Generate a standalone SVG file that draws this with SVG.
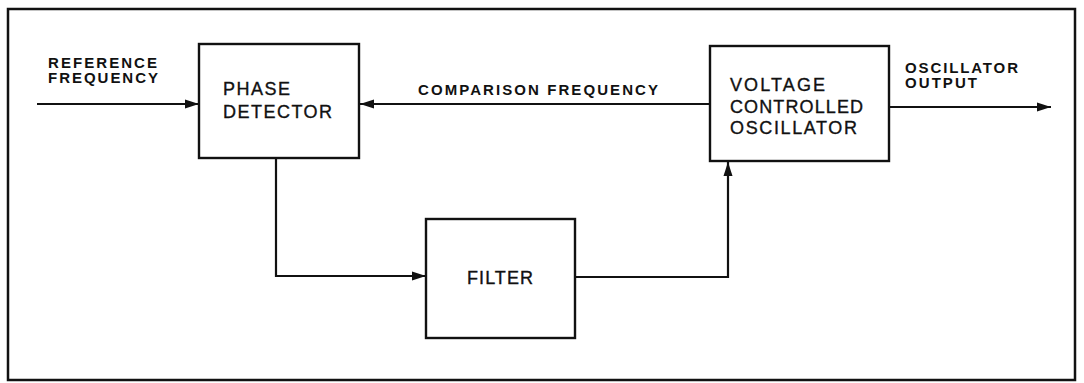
<svg xmlns="http://www.w3.org/2000/svg" width="1084" height="383" viewBox="0 0 1084 383">
<style>
.box{fill:#fff;stroke:#111;stroke-width:2.4}
.frame{fill:#fff;stroke:#111;stroke-width:2.5}
.wire{fill:none;stroke:#111;stroke-width:2.2}
.lbl{font-family:"Liberation Sans",Arial,sans-serif;font-weight:bold;font-size:15px;fill:#111}
.txt{font-family:"Liberation Sans",Arial,sans-serif;font-size:18px;fill:#111;stroke:#111;stroke-width:0.35}
</style>
<defs>
<marker id="ah" markerUnits="userSpaceOnUse" markerWidth="15" markerHeight="11" refX="14" refY="5.5" orient="auto">
<path d="M0,1 L14,5.5 L0,10 Z" fill="#111"/>
</marker>
</defs>
<rect class="frame" x="8" y="9" width="1067" height="371"/>
<g id="connectors">
<path class="wire" d="M37 104 H199" marker-end="url(#ah)"/>
<path class="wire" d="M710 104 H360" marker-end="url(#ah)"/>
<path class="wire" d="M889 107 H1051" marker-end="url(#ah)"/>
<path class="wire" d="M276 158 V276 H426" marker-end="url(#ah)"/>
<path class="wire" d="M575 277 H728 V162" marker-end="url(#ah)"/>
</g>
<g id="labels">
<text class="lbl" x="48" y="68" textLength="109" lengthAdjust="spacing">REFERENCE</text>
<text class="lbl" x="48" y="83" textLength="110" lengthAdjust="spacing">FREQUENCY</text>
<text class="lbl" x="418" y="95" textLength="240" lengthAdjust="spacing">COMPARISON FREQUENCY</text>
<text class="lbl" x="905" y="73" textLength="113" lengthAdjust="spacing">OSCILLATOR</text>
<text class="lbl" x="905" y="88" textLength="72" lengthAdjust="spacing">OUTPUT</text>
</g>
<g id="phase-detector">
<rect class="box" x="199" y="44" width="160" height="114"/>
<text class="txt" x="223" y="95" textLength="67" lengthAdjust="spacing">PHASE</text>
<text class="txt" x="223" y="118" textLength="109" lengthAdjust="spacing">DETECTOR</text>
</g>
<g id="vco">
<rect class="box" x="710" y="46" width="179" height="115"/>
<text class="txt" x="730" y="91" textLength="95" lengthAdjust="spacing">VOLTAGE</text>
<text class="txt" x="730" y="113" textLength="133" lengthAdjust="spacing">CONTROLLED</text>
<text class="txt" x="730" y="134" textLength="127" lengthAdjust="spacing">OSCILLATOR</text>
</g>
<g id="filter">
<rect class="box" x="426" y="219" width="149" height="119"/>
<text class="txt" x="467" y="284" textLength="66" lengthAdjust="spacing">FILTER</text>
</g>
</svg>
